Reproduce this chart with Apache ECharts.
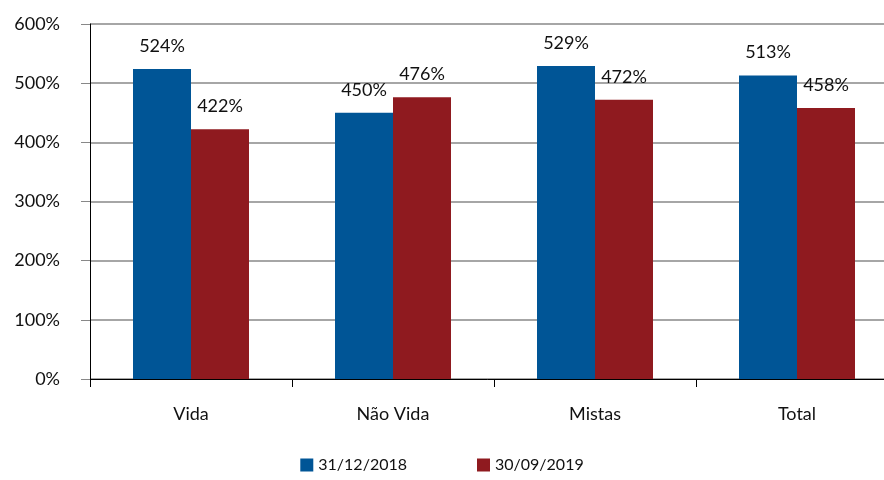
<!DOCTYPE html>
<html>
<head>
<meta charset="utf-8">
<script src="https://cdn.jsdelivr.net/npm/echarts@6/dist/echarts.min.js"></script>
<style>
  html, body { margin: 0; padding: 0; background: #fff; }
  #chart { width: 884px; height: 480px; }
</style>
</head>
<body>
<div id="chart"></div>
<script>
const categories = ['Vida', 'Não Vida', 'Mistas', 'Total'];
const seriesNames = ['31/12/2018', '30/09/2019'];
const values2018 = [524, 450, 529, 513];
const values2019 = [422, 476, 472, 458];

const font = 'Lato, "Open Sans", sans-serif';
const chart = echarts.init(document.getElementById('chart'));

const barStyle = (name, data, color) => ({
  name,
  type: 'bar',
  data,
  barWidth: 58,
  barGap: '0%',
  itemStyle: { color },
  label: {
    show: true,
    position: 'top',
    distance: 14,
    color: '#111',
    fontFamily: font,
    fontSize: 18,
    formatter: ({ value }) => value + '%',
  },
});

chart.setOption({
  animation: false,
  textStyle: { fontFamily: font },
  grid: { left: 90, right: -14, top: 24, bottom: 101, outerBoundsMode: 'none', containLabel: false },
  legend: {
    bottom: 2,
    left: 'center',
    itemWidth: 13,
    itemHeight: 13,
    itemGap: 70,
    icon: 'rect',
    textStyle: { color: '#111', fontSize: 16, fontFamily: font },
    data: seriesNames,
  },
  xAxis: {
    type: 'category',
    data: categories,
    axisLine: { lineStyle: { color: '#000', width: 1 } },
    axisTick: { show: true, length: 8, lineStyle: { color: '#000' } },
    axisLabel: { color: '#111', fontSize: 18, margin: 26, fontFamily: font },
  },
  yAxis: {
    type: 'value',
    min: 0,
    max: 600,
    interval: 100,
    axisLine: { show: true, lineStyle: { color: '#000', width: 1 } },
    axisTick: { show: true, length: 9, lineStyle: { color: '#888' } },
    axisLabel: {
      color: '#111',
      fontSize: 18,
      margin: 30,
      fontFamily: font,
      formatter: v => v + '%',
    },
    splitLine: { lineStyle: { color: '#888', width: 1.5 } },
  },
  series: [
    barStyle(seriesNames[0], values2018, '#005596'),
    barStyle(seriesNames[1], values2019, '#8f1a1f'),
  ],
});
</script>
</body>
</html>
